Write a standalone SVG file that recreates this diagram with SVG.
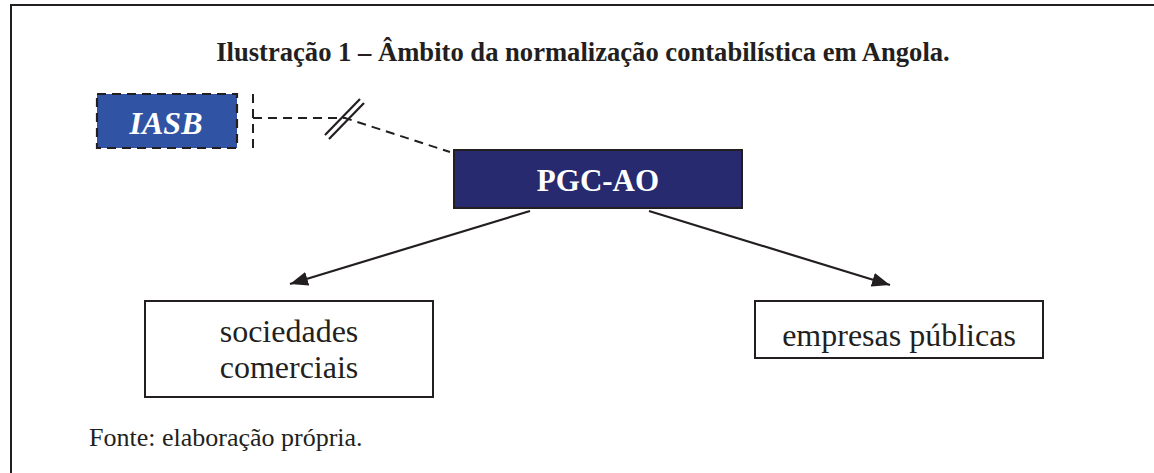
<svg xmlns="http://www.w3.org/2000/svg" width="1154" height="473" viewBox="0 0 1154 473">
<style>
.t{font-family:"Liberation Serif","Times New Roman",serif;fill:#231f20}
.box{fill:#fff;stroke:#231f20;stroke-width:2}
.dash{fill:none;stroke:#231f20;stroke-width:2;stroke-dasharray:9 6}
.line{fill:none;stroke:#231f20;stroke-width:2.2}
</style>
<defs>
<marker id="ah" markerWidth="20" markerHeight="14" refX="18" refY="7" orient="auto" markerUnits="userSpaceOnUse">
<path d="M0,0 L18,7 L0,14 Z" fill="#231f20"/>
</marker>
</defs>
<rect x="0" y="0" width="1154" height="473" fill="#fff"/>
<path d="M11,473 L11,5 L1154,5" fill="none" stroke="#231f20" stroke-width="2"/>
<text class="t" x="583" y="61" text-anchor="middle" font-size="26.6" font-weight="bold">Ilustração 1 – Âmbito da normalização contabilística em Angola.</text>
<g id="connectors">
<line class="dash" x1="253" y1="94" x2="253" y2="151"/>
<polyline class="dash" points="253,118 345,118 450,152"/>
<line class="line" x1="325" y1="135" x2="360" y2="99" stroke-width="2"/>
<line class="line" x1="329" y1="139" x2="364" y2="103" stroke-width="2"/>
<line class="line" x1="530" y1="211" x2="290" y2="284" marker-end="url(#ah)"/>
<line class="line" x1="649" y1="211" x2="890" y2="285" marker-end="url(#ah)"/>
</g>
<g id="iasb">
<rect x="97" y="94" width="140" height="54" fill="#3153a4" stroke="#231f20" stroke-width="2.2" stroke-dasharray="9 6"/>
<text class="t" x="166" y="134" text-anchor="middle" font-size="32" font-weight="bold" font-style="italic" style="fill:#fff">IASB</text>
</g>
<g id="pgc">
<rect x="454" y="150" width="288" height="58" fill="#272a6e" stroke="#231f20" stroke-width="2"/>
<text class="t" x="598" y="191" text-anchor="middle" font-size="31" font-weight="bold" style="fill:#fff">PGC-AO</text>
</g>
<g id="sociedades">
<rect class="box" x="145" y="301" width="288" height="96"/>
<text class="t" x="289" y="342" text-anchor="middle" font-size="32">sociedades</text>
<text class="t" x="289" y="378" text-anchor="middle" font-size="32">comerciais</text>
</g>
<g id="empresas">
<rect class="box" x="755" y="301" width="288" height="57"/>
<text class="t" x="899" y="346" text-anchor="middle" font-size="32">empresas públicas</text>
</g>
<text class="t" x="89" y="446" font-size="26">Fonte: elaboração própria.</text>
</svg>
